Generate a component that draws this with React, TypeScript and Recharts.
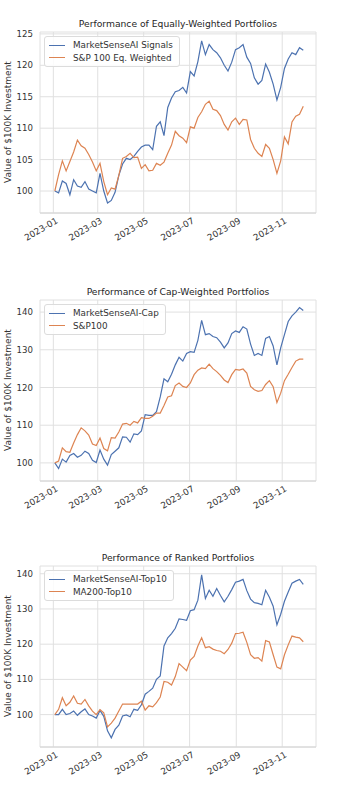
import React from 'react';
import { LineChart, Line, XAxis, YAxis, CartesianGrid, Legend } from 'recharts';

// sampled every 5 calendar days starting 2023-01-03
const startDate = '2023-01-03';
const stepDays = 5;

const monthTicks = ['2023-01-01', '2023-03-01', '2023-05-01', '2023-07-01', '2023-09-01', '2023-11-01'];

const eqSignals = [
  100.0, 99.7, 101.6, 101.2, 99.4, 101.8, 100.8, 100.6, 101.5, 100.3,
  100.0, 99.7, 102.8, 100.0, 98.1, 98.5, 99.8, 102.5, 104.3, 105.2,
  105.0, 105.5, 106.3, 107.0, 107.3, 107.3, 106.6, 110.3, 111.0, 108.8,
  113.3, 114.8, 115.8, 116.0, 116.5, 115.6, 119.0, 118.3, 120.6, 123.9,
  121.7, 123.3, 122.5, 122.0, 121.2, 120.0, 119.1, 120.5, 122.5, 122.8,
  123.3, 121.3, 120.3, 118.0, 117.0, 117.6, 120.2, 118.9, 117.0, 114.5,
  116.5, 119.5, 121.0, 122.0, 121.7, 122.8, 122.4,
];
const eqBenchmark = [
  100.0, 102.6, 104.8, 103.2, 104.7, 106.2, 108.1, 107.2, 106.8, 105.8,
  104.6, 103.2, 104.4, 101.5, 99.4, 100.5, 100.3, 102.5, 105.2, 105.5,
  106.0, 105.3, 105.4, 103.6, 104.2, 103.2, 103.3, 104.4, 104.1, 104.6,
  106.0, 107.3, 109.5, 108.8, 108.4, 107.7, 110.2, 110.0, 111.7, 112.6,
  113.8, 114.3, 113.0, 112.8, 112.0, 110.6, 109.7, 111.0, 111.6, 110.6,
  111.4, 111.3, 108.2, 106.8, 106.0, 105.5, 107.4, 106.8, 105.0, 102.8,
  104.8, 108.6, 107.5, 111.0, 111.9, 112.2, 113.5,
];

const capSignals = [
  100.0, 98.5, 101.0, 100.2, 102.0, 102.5, 101.5, 102.0, 103.1, 102.5,
  100.7, 100.1, 103.4, 101.0, 99.4, 102.2, 103.1, 104.0, 106.9, 106.8,
  105.5, 107.7, 107.5, 108.5, 112.8, 112.6, 112.6, 113.6, 117.5, 122.3,
  121.5, 123.5, 126.0, 128.0, 127.0, 129.0, 129.5, 129.3, 132.5, 137.8,
  134.0, 134.3, 133.5, 133.2, 132.0, 130.5, 131.8, 134.3, 135.0, 134.6,
  136.1, 135.5, 131.5, 128.5, 129.0, 128.5, 133.0, 133.5, 131.0, 126.0,
  130.5, 134.0, 137.5, 139.0, 140.0, 141.2, 140.4,
];
const capBenchmark = [
  100.0, 100.5, 104.0, 103.0, 102.8, 105.3, 107.5, 109.3, 108.5, 107.4,
  105.0, 104.6, 106.6, 103.8, 103.2, 106.7, 106.6, 108.2, 110.3, 110.5,
  110.0, 111.0, 110.6, 112.0, 111.8, 111.8, 112.4, 113.2, 113.2, 115.2,
  117.5, 117.8, 120.5, 121.2, 120.3, 120.0, 121.2, 123.4, 124.6, 125.2,
  125.0, 126.2, 125.0, 124.2, 123.2, 122.0, 121.3, 123.4, 124.8, 124.6,
  124.9, 123.8, 120.3, 119.4, 119.0, 119.2, 120.8, 121.8, 120.2, 116.0,
  118.5, 121.8, 123.5, 125.3, 127.0, 127.5, 127.5,
];

const rankedSignals = [
  100.0, 100.0, 101.5, 100.0, 100.3, 101.0, 99.8, 100.8, 101.6, 100.0,
  99.6, 99.0, 101.2, 99.5, 95.4, 93.4, 95.8, 97.0, 99.6, 99.9,
  99.4, 101.5, 101.2, 102.8, 105.8, 106.6, 107.5, 110.0, 111.0, 119.5,
  121.8, 123.0, 124.5, 127.2, 127.0, 126.8, 129.5, 129.8, 132.5, 139.7,
  133.0, 135.3, 133.6, 135.8, 133.8, 132.0, 133.6, 135.5, 137.6, 137.9,
  138.4, 135.2, 132.8, 131.8, 131.6, 131.2, 135.3, 133.3, 130.8, 125.5,
  128.5, 132.2, 134.8, 137.3, 137.9, 138.4, 137.0,
];
const rankedBenchmark = [
  100.0, 101.5, 104.8, 102.5, 103.5, 105.3, 103.2, 103.0, 104.3, 102.5,
  101.0, 100.0, 101.4, 100.5, 96.5, 97.6, 99.0, 101.0, 103.0, 103.0,
  103.0, 103.0, 103.0, 103.8, 101.3, 102.5, 102.2, 103.4, 105.0, 109.4,
  109.2, 108.4, 110.8, 114.5, 113.5, 112.5, 115.5, 116.5, 119.5, 121.8,
  119.0, 119.3, 118.6, 118.2, 118.0, 117.3, 118.5, 120.3, 123.0, 123.1,
  123.4, 120.5, 117.0, 116.0, 116.2, 115.2, 121.0, 120.6, 117.0, 113.5,
  113.0, 117.0, 119.8, 122.3, 122.0, 121.8, 120.7,
];

const C = {
  blue: '#4c72b0',
  orange: '#dd8452',
  grid: '#e0e0e0',
  spine: '#d4d4d4',
  text: '#333333',
};
const FONT = '"DejaVu Sans", sans-serif';
const DAY = 86400000;
const jan1 = Date.parse('2023-01-01');
const xDomain = [jan1 - 17.7 * DAY, jan1 + 348.9 * DAY];
const xTicks = monthTicks.map((d) => Date.parse(d));

const buildRows = (a: number[], b: number[]) =>
  a.map((v, i) => ({ t: Date.parse(startDate) + i * stepDays * DAY, a: v, b: b[i] }));

const DateTick = ({ x, y, payload }: any) => {
  const d = new Date(payload.value);
  const label = `${d.getUTCFullYear()}-${String(d.getUTCMonth() + 1).padStart(2, '0')}`;
  return (
    <g transform={`translate(${x + 2},${y})`}>
      <text textAnchor="end" transform="rotate(-30)" dy="0.72em" fontSize={8.8} fill={C.text} fontFamily={FONT}>
        {label}
      </text>
    </g>
  );
};

const LegendBox = ({ payload }: any) => {
  const items = [...(payload || [])].sort((p: any, q: any) => String(p.dataKey).localeCompare(String(q.dataKey)));
  return (
    <div
      style={{
        background: 'rgba(255,255,255,0.85)',
        border: '1px solid #dcdcdc',
        borderRadius: 3,
        padding: '2px 6px 2px 4px',
        fontFamily: FONT,
        fontSize: 8.8,
        color: C.text,
        lineHeight: '12.5px',
      }}
    >
      {items.map((p: any) => (
        <div key={p.value} style={{ display: 'flex', alignItems: 'center', whiteSpace: 'nowrap' }}>
          <span style={{ display: 'inline-block', width: 16, height: 1.4, background: p.color, marginRight: 8 }} />
          {p.value}
        </div>
      ))}
    </div>
  );
};

interface PanelProps {
  top: number;
  title: string;
  names: [string, string];
  signals: number[];
  benchmark: number[];
  yDomain: [number, number];
  yTicks: number[];
}

function Panel({ top, title, names, signals, benchmark, yDomain, yTicks }: PanelProps) {
  const rows = buildRows(signals, benchmark);
  return (
    <div style={{ position: 'absolute', top, left: 0, width: 352, height: 260 }}>
      <div
        style={{
          position: 'absolute', top: 18, left: 40, width: 276, textAlign: 'center',
          fontFamily: FONT, fontSize: 9.2, color: '#262626', lineHeight: '12px',
        }}
      >
        {title}
      </div>
      <div style={{ position: 'absolute', left: 8, top: 122, width: 0, height: 0 }}>
        <div
          style={{
            position: 'absolute', transform: 'translate(-50%, -50%) rotate(-90deg)', whiteSpace: 'nowrap',
            fontFamily: FONT, fontSize: 9, color: C.text, lineHeight: '10px',
          }}
        >
          Value of $100K Investment
        </div>
      </div>
      <LineChart width={352} height={260} data={rows} margin={{ top: 32, right: 36, left: 0, bottom: 2 }}>
        <CartesianGrid stroke={C.grid} strokeWidth={1} />
        <XAxis
          dataKey="t"
          type="number"
          scale="time"
          domain={xDomain}
          ticks={xTicks}
          interval={0}
          tick={<DateTick />}
          tickLine={false}
          tickSize={0}
          tickMargin={4}
          axisLine={{ stroke: C.spine }}
          height={45}
          allowDataOverflow
        />
        <YAxis
          type="number"
          domain={yDomain}
          ticks={yTicks}
          interval={0}
          tick={{ fill: C.text, fontSize: 8.6, fontFamily: FONT }}
          tickLine={false}
          axisLine={false}
          tickSize={0}
          tickMargin={7}
          width={40}
          allowDataOverflow
        />
        <Legend
          layout="vertical"
          align="center"
          verticalAlign="middle"
          content={<LegendBox />}
          wrapperStyle={{ top: 36, left: 44, width: 'auto', right: 'auto', bottom: 'auto' }}
        />
        <Line type="linear" dataKey="a" name={names[0]} stroke={C.blue} strokeWidth={1.2} dot={false} isAnimationActive={false} />
        <Line type="linear" dataKey="b" name={names[1]} stroke={C.orange} strokeWidth={1.2} dot={false} isAnimationActive={false} />
      </LineChart>
    </div>
  );
}

export default function App() {
  return (
    <div style={{ position: 'relative', width: 352, height: 800, background: '#fff', overflow: 'hidden' }}>
      <style>{'body{margin:0;background:#fff}'}</style>
      <Panel
        top={0}
        title="Performance of Equally-Weighted Portfolios"
        names={['MarketSenseAI Signals', 'S&P 100 Eq. Weighted']}
        signals={eqSignals}
        benchmark={eqBenchmark}
        yDomain={[96.5, 125.3]}
        yTicks={[100, 105, 110, 115, 120, 125]}
      />
      <Panel
        top={268}
        title="Performance of Cap-Weighted Portfolios"
        names={['MarketSenseAI-Cap', 'S&P100']}
        signals={capSignals}
        benchmark={capBenchmark}
        yDomain={[95.2, 143.2]}
        yTicks={[100, 110, 120, 130, 140]}
      />
      <Panel
        top={534}
        title="Performance of Ranked Portfolios"
        names={['MarketSenseAI-Top10', 'MA200-Top10']}
        signals={rankedSignals}
        benchmark={rankedBenchmark}
        yDomain={[90.8, 142.2]}
        yTicks={[100, 110, 120, 130, 140]}
      />
    </div>
  );
}
